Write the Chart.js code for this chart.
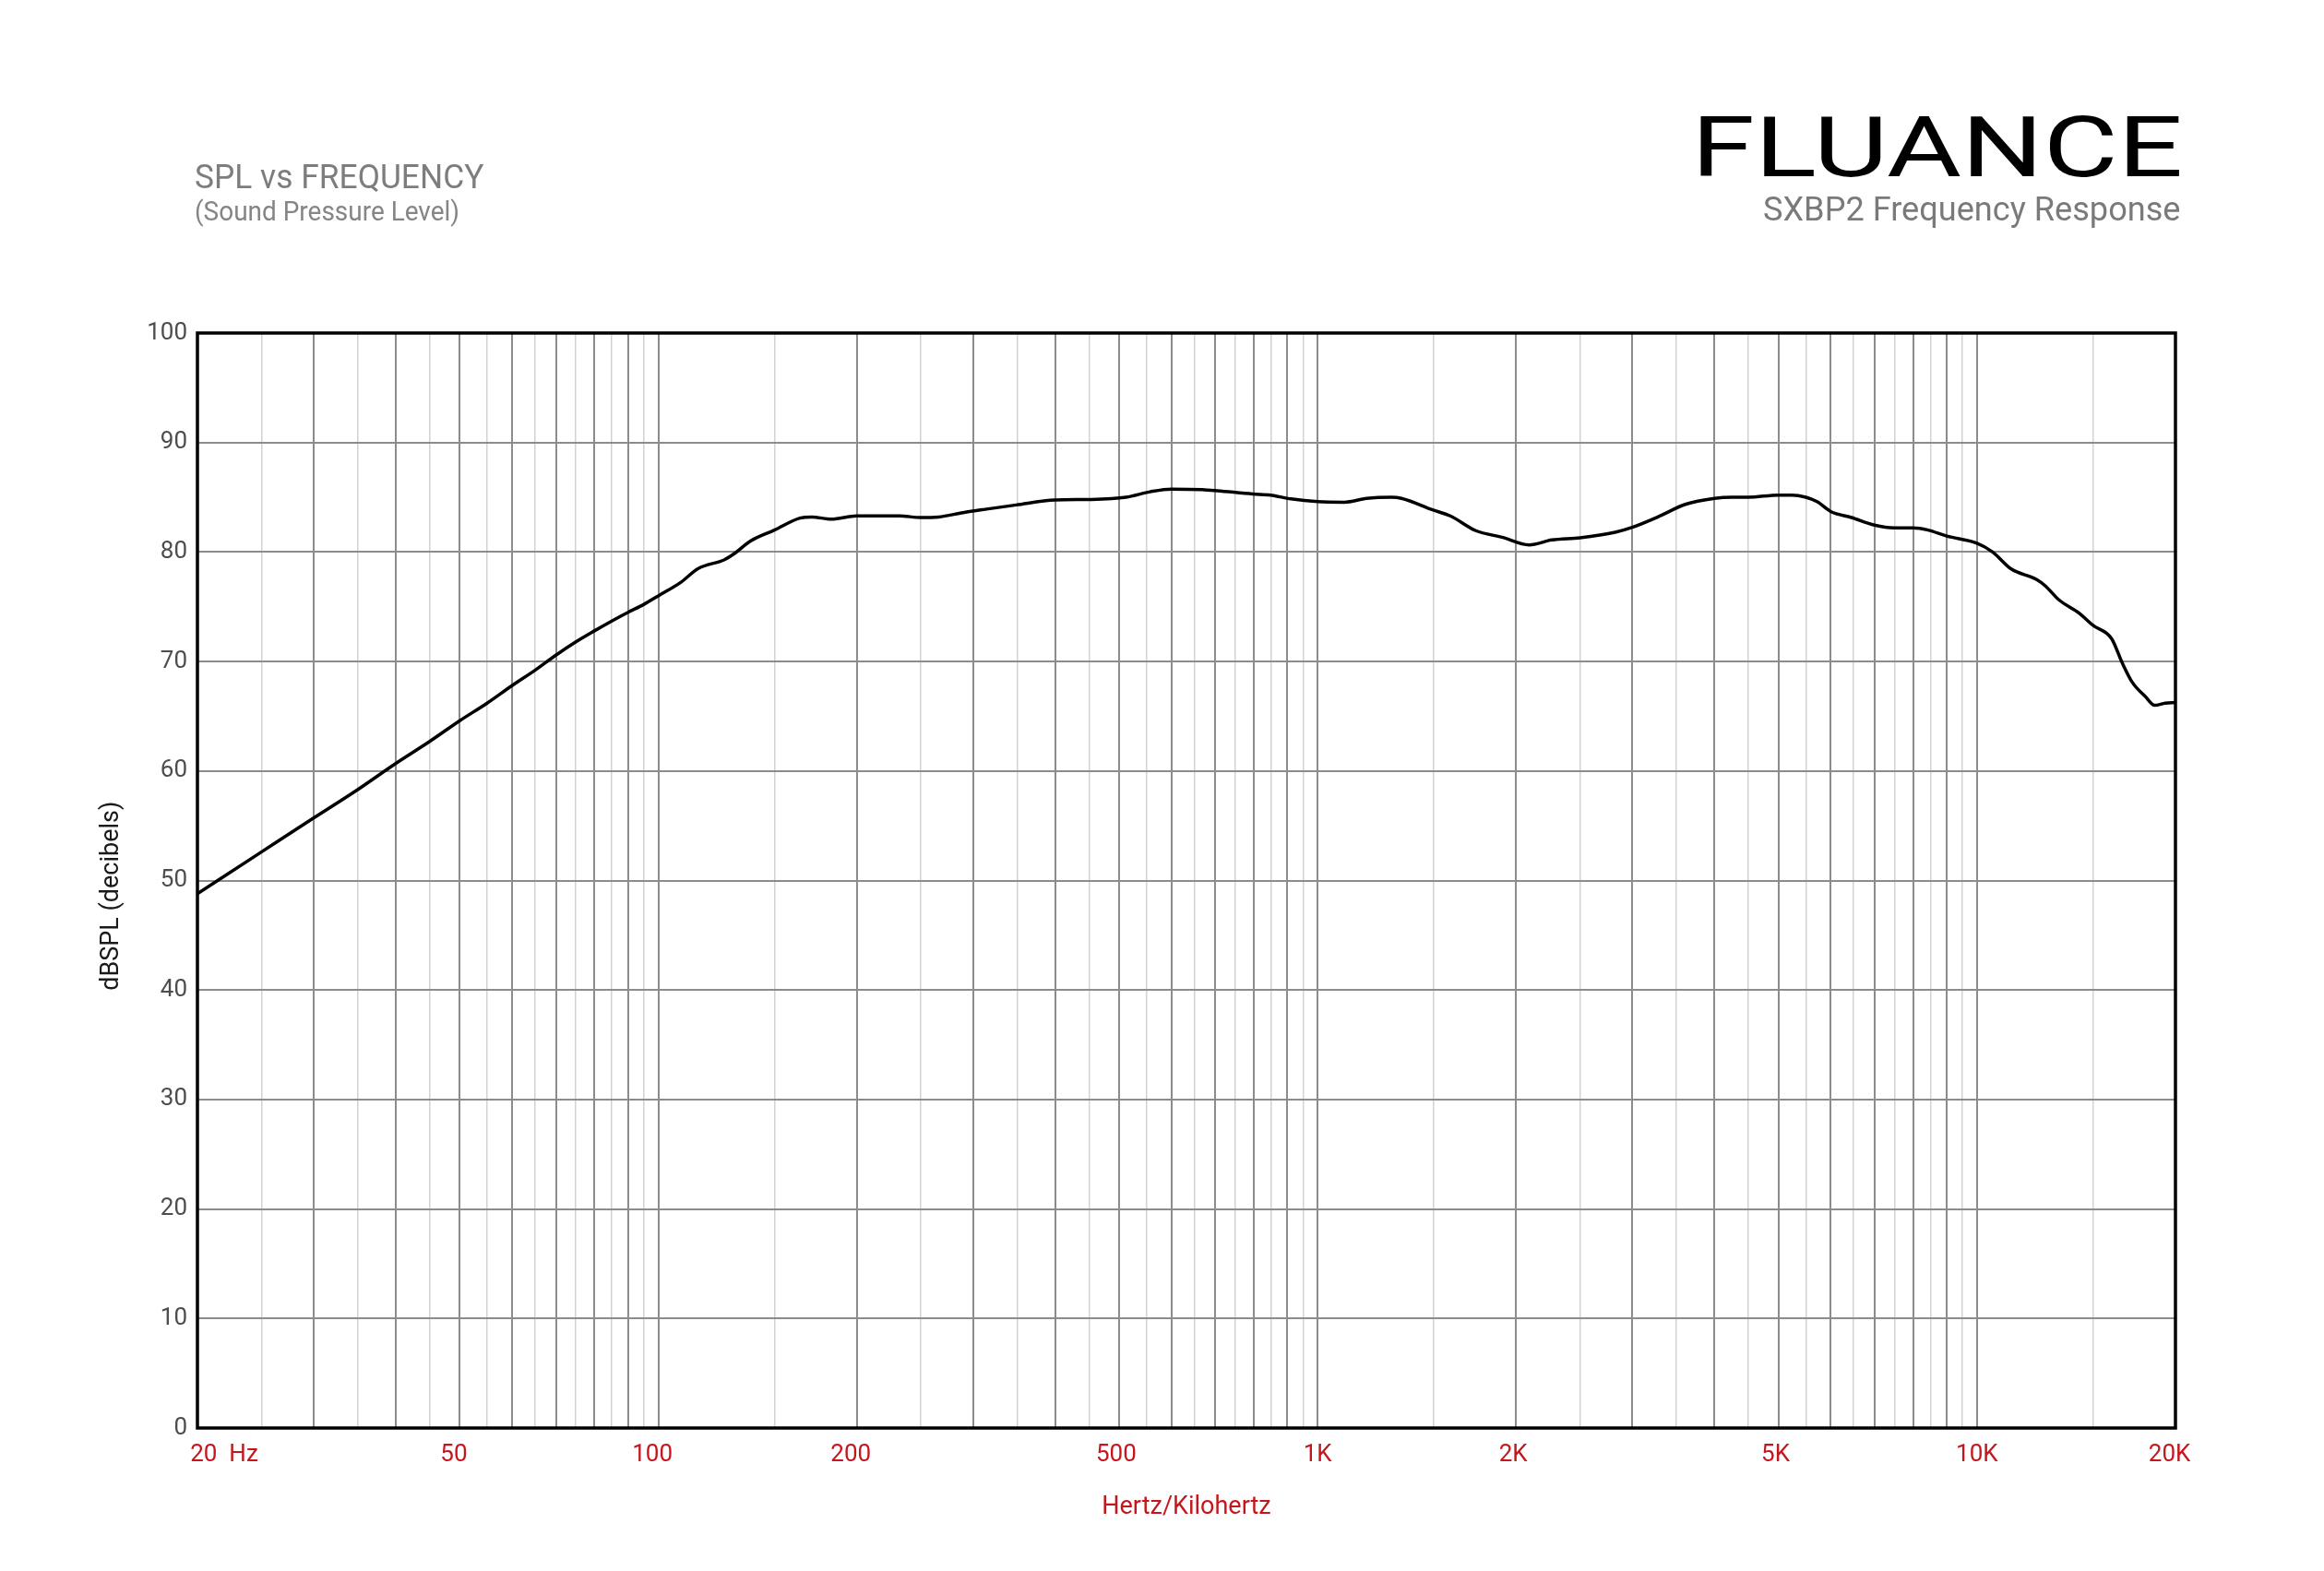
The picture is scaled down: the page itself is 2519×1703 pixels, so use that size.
<!DOCTYPE html>
<html><head><meta charset="utf-8">
<script src="https://cdn.jsdelivr.net/npm/chart.js@4.4.1/dist/chart.umd.min.js"></script>
<style>html,body{margin:0;padding:0;background:#fff;} #wrap{position:relative;width:2519px;height:1703px;}</style>
</head><body><div id="wrap"><canvas id="c"></canvas></div>
<script>
// ---- data ----
const freqs = [20,25,30,35,40,45,50,55,60,65,70,75,80,85,90,95,100,108,115,126,130,138,
  150,164,171,183,200,216,232,250,266,290,313,349,400,452,512,557,600,668,704,797,848,911,
  1000,1097,1187,1293,1340,1494,1589,1738,1904,2093,2266,2500,2826,3000,3280,3610,
  4000,4253,4500,5000,5240,5500,5720,6000,6450,6990,7490,8000,8430,9000,
  10000,10560,11270,12300,12700,13300,14300,15000,16000,16600,17200,18000,18600,19300,20000];
const spl = [48.8,52.6,55.7,58.3,60.7,62.7,64.6,66.2,67.8,69.2,70.6,71.8,72.8,73.7,74.5,75.2,76.0,77.2,78.5,79.3,79.8,81.0,
  82.0,83.1,83.2,83.0,83.3,83.3,83.3,83.15,83.2,83.6,83.9,84.3,84.75,84.8,85.0,85.5,85.75,85.7,85.6,85.3,85.2,84.85,
  84.6,84.55,84.9,85.0,84.9,83.85,83.3,81.95,81.35,80.65,81.1,81.3,81.8,82.25,83.2,84.35,
  84.9,85.0,85.0,85.2,85.2,85.0,84.6,83.7,83.15,82.45,82.2,82.2,82.0,81.45,
  80.8,80.0,78.45,77.5,76.9,75.65,74.4,73.3,72.1,69.9,68.1,66.8,66.0,66.2,66.25];
const gridFreqs = [20,25,30,35,40,45,50,55,60,65,70,75,80,85,90,95,100,150,
  200,250,300,350,400,450,500,550,600,650,700,750,800,850,900,950,1000,1500,
  2000,2500,3000,3500,4000,4500,5000,5500,6000,6500,7000,7500,8000,8500,9000,9500,10000,15000,20000];
const xTickValues = [20,50,100,200,500,1000,2000,5000,10000,20000];
const xTickLabels = ['         20  Hz','50  ','100  ','200  ','500 ','1K','2K ','5K ','10K','20K  '];
const yTickValues = [0,10,20,30,40,50,60,70,80,90,100];

const FONT = 'Roboto';
const RED = '#c4161c';

function isMajor(v){
  const p = Math.pow(10, Math.floor(Math.log10(v) + 1e-9));
  const r = v / p;
  return Math.abs(r - Math.round(r)) < 1e-6;
}

function fitText(ctx, text, x, baseline, w, capH, color, family, weight, alignRight){
  ctx.save();
  ctx.font = weight + ' 100px ' + family;
  const capA = ctx.measureText('H').actualBoundingBoxAscent;
  const size = 100 * capH / capA;
  ctx.font = weight + ' ' + size + 'px ' + family;
  const m = ctx.measureText(text);
  const ink = m.actualBoundingBoxLeft + m.actualBoundingBoxRight;
  const sx = w / ink;
  ctx.translate(alignRight ? x - w : x, baseline);
  ctx.scale(sx, 1);
  ctx.textAlign = 'left';
  ctx.textBaseline = 'alphabetic';
  ctx.fillStyle = color;
  ctx.fillText(text, m.actualBoundingBoxLeft, 0);
  ctx.restore();
}

const headerPlugin = {
  id: 'header',
  beforeDatasetsDraw(chart){
    const {ctx, chartArea:{left, top, right, bottom}} = chart;
    ctx.save();
    ctx.strokeStyle = '#000';
    ctx.lineWidth = 3.5;
    ctx.strokeRect(left, top, right - left, bottom - top);
    ctx.restore();
  },
  afterDraw(chart){
    const ctx = chart.ctx;
    fitText(ctx, 'SPL vs FREQUENCY', 212, 203.5, 313, 26.8, '#7d7d7d', FONT, '400');
    fitText(ctx, '(Sound Pressure Level)', 212, 239, 285, 21, '#858585', FONT, '400');
    fitText(ctx, 'FLUANCE', 2363, 191, 520, 65, '#000', FONT, '400', true);
    fitText(ctx, 'SXBP2 Frequency Response', 2363, 238.5, 451, 26.5, '#7a7a7a', FONT, '400', true);
  }
};

const ctx = document.getElementById('c').getContext('2d');
new Chart(ctx, {
  type: 'line',
  data: {
    datasets: [{
      data: freqs.map((f, i) => ({x: f, y: spl[i]})),
      borderColor: '#000',
      borderWidth: 3.5,
      pointRadius: 0,
      fill: false,
      cubicInterpolationMode: 'monotone'
    }]
  },
  options: {
    responsive: true,
    maintainAspectRatio: false,
    devicePixelRatio: 1,
    animation: false,
    layout: {padding: {left: 0, right: 161, top: 361, bottom: 0}},
    plugins: {legend: {display: false}, tooltip: {enabled: false}},
    scales: {
      x: {
        type: 'logarithmic',
        min: 20, max: 20000,
        afterBuildTicks(scale){ scale.ticks = gridFreqs.map(v => ({value: v})); },
        afterFit(scale){ scale.height = 155; },
        border: {display: false},
        grid: {
          drawTicks: false,
          color: c => isMajor(c.tick.value) ? '#8c8c8c' : '#d2d2d2',
          lineWidth: c => isMajor(c.tick.value) ? 2 : 1.5
        },
        ticks: {
          autoSkip: false, maxRotation: 0, minRotation: 0,
          padding: 14,
          color: RED,
          font: {family: FONT, size: 26},
          callback(value){
            const i = xTickValues.indexOf(Number(value));
            return i >= 0 ? xTickLabels[i] : '';
          }
        },
        title: {
          display: true, text: 'Hertz/Kilohertz', color: RED,
          font: {family: FONT, size: 27},
          padding: {top: 0, bottom: 53}
        }
      },
      y: {
        min: 0, max: 100,
        afterBuildTicks(scale){ scale.ticks = yTickValues.map(v => ({value: v})); },
        afterFit(scale){ scale.width = 214; },
        border: {display: false},
        grid: {drawTicks: false, color: '#8c8c8c', lineWidth: 2},
        ticks: {
          padding: 11,
          color: '#4d4d4d',
          font: {family: FONT, size: 26}
        },
        title: {
          display: true, text: 'dBSPL (decibels)     ', color: '#1a1a1a',
          font: {family: FONT, size: 27},
          padding: {top: 105, bottom: 0}
        }
      }
    }
  },
  plugins: [headerPlugin]
});
</script>
</body></html>
